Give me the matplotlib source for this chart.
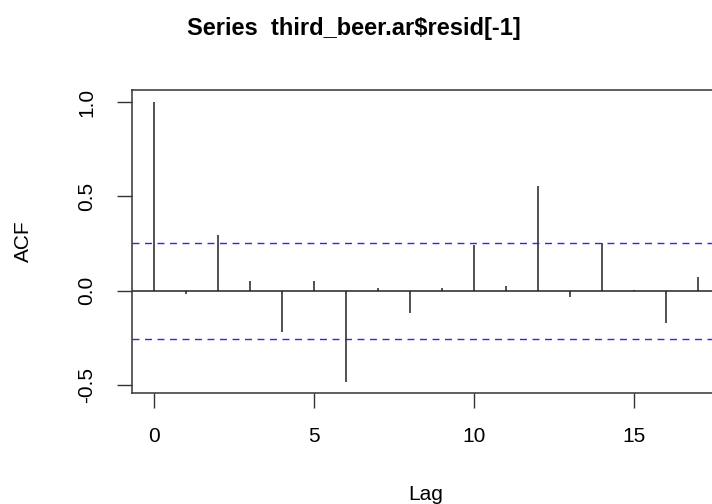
import matplotlib
matplotlib.use("Agg")
import matplotlib.pyplot as plt

lags = list(range(0, 18))
acf_values = [1.0, -0.02, 0.295, 0.049, -0.221, 0.049, -0.482, 0.016, -0.120,
              0.016, 0.240, 0.025, 0.557, -0.035, 0.254, 0.002, -0.173, 0.071]
conf_limit = 0.254
title = "Series  third_beer.ar$resid[-1]"
x_ticks = [0, 5, 10, 15]
y_ticks = [-0.5, 0.0, 0.5, 1.0]

plt.rcParams['font.family'] = ['Liberation Sans', 'DejaVu Sans']
tsize, lsize = 17.0, 15.0

fig = plt.figure(figsize=(7.12, 5.04), dpi=100)
ax = fig.add_axes([132/712, (504-392.7)/504, 588/712, (392.7-90)/504])

ax.vlines(lags, 0, acf_values, color='#222222', linewidth=1.1)
ax.axhline(0, color='#222222', linewidth=1.1)
for c in (conf_limit, -conf_limit):
    ax.axhline(c, color='#2a2aee', linewidth=1.0, dashes=(5, 4))

ax.set_xlim(-0.68, 17.68)
ax.set_ylim(-0.5406, 1.0636)
ax.set_xticks(x_ticks)
ax.set_xticklabels([str(v) for v in x_ticks])
ax.set_yticks(y_ticks)
ax.set_yticklabels([f"{v:.1f}" for v in y_ticks], rotation=90, va='center')

for s in ax.spines.values():
    s.set_color('#333333')
    s.set_linewidth(1.1)

ax.tick_params(axis='both', direction='out', length=10.5, width=1.0, color='#333333',
               labelsize=lsize, labelcolor='black')
ax.tick_params(axis='x', pad=14)
ax.tick_params(axis='y', pad=15)

fig.text(354/712, 1 - 35.5/504, title, ha='center', va='baseline',
         fontsize=tsize, fontweight='bold')
fig.text(426/712, 4/504, "Lag", ha='center', va='baseline', fontsize=lsize)
fig.text(23/712, 1 - 241.5/504, "ACF", ha='center', va='center', fontsize=lsize,
         rotation=90)

fig.savefig("out.png", dpi=100)
